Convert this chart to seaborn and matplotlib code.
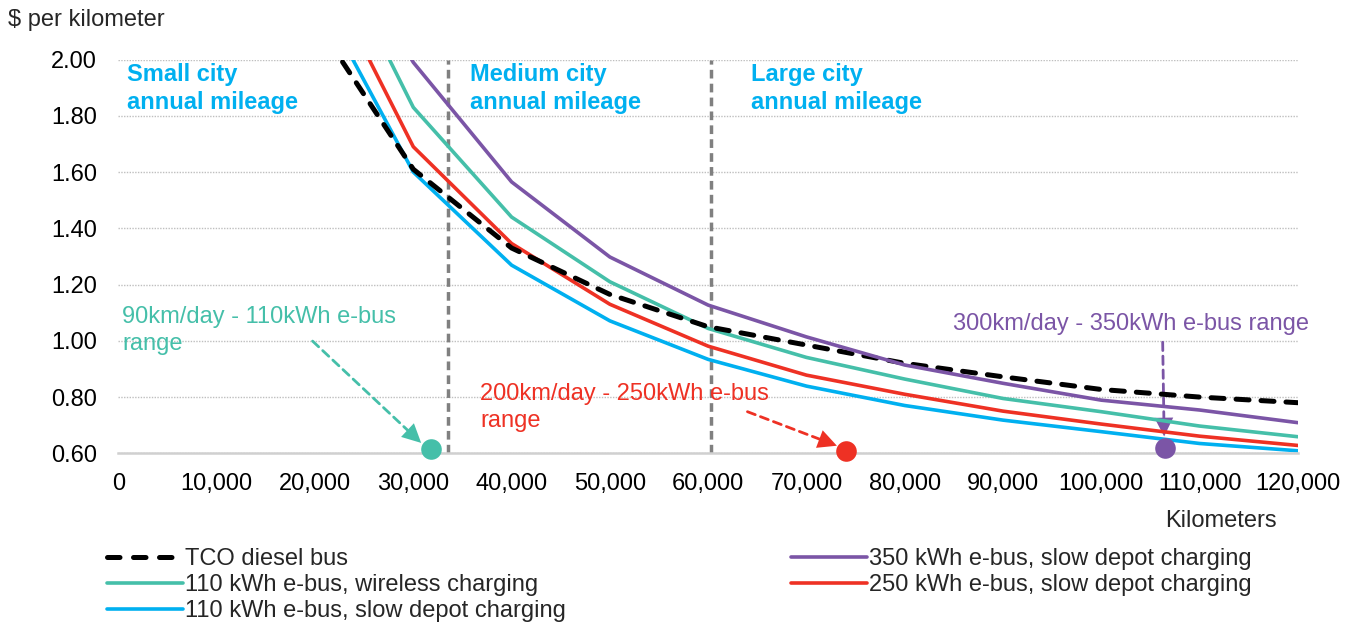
import seaborn as sns
import matplotlib.pyplot as plt
from matplotlib.lines import Line2D
from matplotlib.patches import FancyArrowPatch
import pandas as pd

# data ($ per km vs annual km)
km = [20000, 30000, 40000, 50000, 60000, 70000, 80000, 90000, 100000, 110000, 120000]
diesel = [2.14, 1.61, 1.33, 1.165, 1.05, 0.985, 0.92, 0.872, 0.827, 0.80, 0.78]
wireless_110 = [2.53, 1.83, 1.44, 1.21, 1.044, 0.941, 0.864, 0.795, 0.748, 0.697, 0.659]
depot_110 = [2.25, 1.60, 1.269, 1.071, 0.934, 0.839, 0.77, 0.718, 0.677, 0.635, 0.609]
depot_350 = [2.60, 1.99, 1.565, 1.298, 1.127, 1.014, 0.914, 0.849, 0.789, 0.754, 0.709]
depot_250 = [2.38, 1.69, 1.346, 1.13, 0.981, 0.878, 0.81, 0.75, 0.704, 0.661, 0.628]

labels = ["TCO diesel bus", "110 kWh e-bus, wireless charging",
          "110 kWh e-bus, slow depot charging", "350 kWh e-bus, slow depot charging",
          "250 kWh e-bus, slow depot charging"]

city_bounds = [33500, 60300]
city_labels = ["Small city\nannual mileage", "Medium city\nannual mileage", "Large city\nannual mileage"]
city_x = [860, 35800, 64400]

range_km = [31800, 74000, 106450]
range_text = ["90km/day - 110kWh e-bus\nrange", "200km/day - 250kWh e-bus\nrange",
              "300km/day - 350kWh e-bus range"]

TEAL = "#45BFA9"
BLUE = "#00B0F0"
RED = "#EE3124"
PURPLE = "#7B55A6"
FS = 17

sns.set_style("white")
plt.rcParams['font.family'] = ['Liberation Sans', 'DejaVu Sans']

fig = plt.figure(figsize=(13.54, 6.27), dpi=100)
ax = fig.add_axes([0.0875, 0.277, 0.871, 0.628])

df = pd.DataFrame({"km": km, "diesel": diesel, "w110": wireless_110,
                   "d110": depot_110, "d350": depot_350, "d250": depot_250})

diesel_dash = (0, (2.6, 2.4))
sns.lineplot(data=df, x="km", y="w110", color=TEAL, linewidth=2.6, ax=ax)
sns.lineplot(data=df, x="km", y="d110", color=BLUE, linewidth=2.6, ax=ax)
sns.lineplot(data=df, x="km", y="d250", color=RED, linewidth=2.6, ax=ax)
sns.lineplot(data=df, x="km", y="diesel", color="black", linewidth=3.6,
             linestyle=diesel_dash, dash_capstyle="round", ax=ax)
sns.lineplot(data=df, x="km", y="d350", color=PURPLE, linewidth=2.6, ax=ax)

ax.set_xlim(0, 120000)
ax.set_ylim(0.6, 2.0)
ax.set_xticks(range(0, 120001, 10000))
ax.set_xticklabels([f"{v:,}" for v in range(0, 120001, 10000)])
ax.set_yticks([0.6 + 0.2 * i for i in range(8)])
ax.set_yticklabels([f"{0.6 + 0.2 * i:.2f}" for i in range(8)])
ax.set_xlabel("")
ax.set_ylabel("")
ax.tick_params(axis="both", labelsize=FS, colors="black")
ax.tick_params(axis="x", direction="out", length=8, width=1.5, color="#D0D0D0", pad=6)
ax.tick_params(axis="y", length=0, pad=15.5)
ax.yaxis.grid(True, linestyle=(0, (1, 1)), color="#BFBFBF", linewidth=1)
for s in ["top", "right", "left"]:
    ax.spines[s].set_visible(False)
ax.spines["bottom"].set_color("#D0D0D0")
ax.spines["bottom"].set_linewidth(1.8)

# city boundaries
for b in city_bounds:
    ax.axvline(b, color="#808080", linewidth=2.5, linestyle=(0, (2.5, 1.5)), zorder=1)
for x, t in zip(city_x, city_labels):
    ax.text(x, 1.987, t, color=BLUE, fontsize=FS, fontweight="bold", va="top",
            ha="left", linespacing=1.27)

# range annotations
ax.text(350, 1.125, range_text[0], color=TEAL, fontsize=FS, va="top", ha="left", linespacing=1.3)
ax.text(36800, 0.85, range_text[1], color=RED, fontsize=FS, va="top", ha="left", linespacing=1.3)
ax.text(121100, 1.1, range_text[2], color=PURPLE, fontsize=FS, va="top", ha="right")

arrows = [((19750, 0.999), (30800, 0.637), TEAL),
          ((64000, 0.748), (73100, 0.627), RED),
          ((106250, 0.995), (106400, 0.66), PURPLE)]
for (p0, p1, c) in arrows:
    ax.add_patch(FancyArrowPatch(p0, p1, arrowstyle="-", color=c, linewidth=2,
                                 linestyle=(0, (3, 2)), shrinkA=0, shrinkB=8, clip_on=False))
    ax.add_patch(FancyArrowPatch(p0, p1, arrowstyle="-|>,head_length=0.9,head_width=0.45",
                                 color=c, linewidth=0, mutation_scale=15,
                                 shrinkA=0, shrinkB=0, clip_on=False))

for x, c, y in zip(range_km, [TEAL, RED, PURPLE], [0.617, 0.607, 0.618]):
    ax.scatter([x], [y], s=220, color=c, zorder=5, clip_on=False, linewidths=0)

fig.text(0.006, 0.968, "$ per kilometer", fontsize=FS, va="center", ha="left")
fig.text(0.943, 0.169, "Kilometers", fontsize=FS, va="center", ha="right")

handles = [
    Line2D([], [], color="black", linewidth=3.6, linestyle=(0, (2.5, 2.7)), dash_capstyle="round"),
    Line2D([], [], color=TEAL, linewidth=2.6),
    Line2D([], [], color=BLUE, linewidth=2.6),
    Line2D([], [], color=PURPLE, linewidth=2.6),
    Line2D([], [], color=RED, linewidth=2.6),
]
fig.legend(handles, labels, loc="upper left", bbox_to_anchor=(0.079, 0.126), ncol=2,
           frameon=False, fontsize=FS, handlelength=3.2, handletextpad=0.1,
           labelspacing=0.17, columnspacing=9.55, borderpad=0, borderaxespad=0)

fig.savefig("out.png", dpi=100)
